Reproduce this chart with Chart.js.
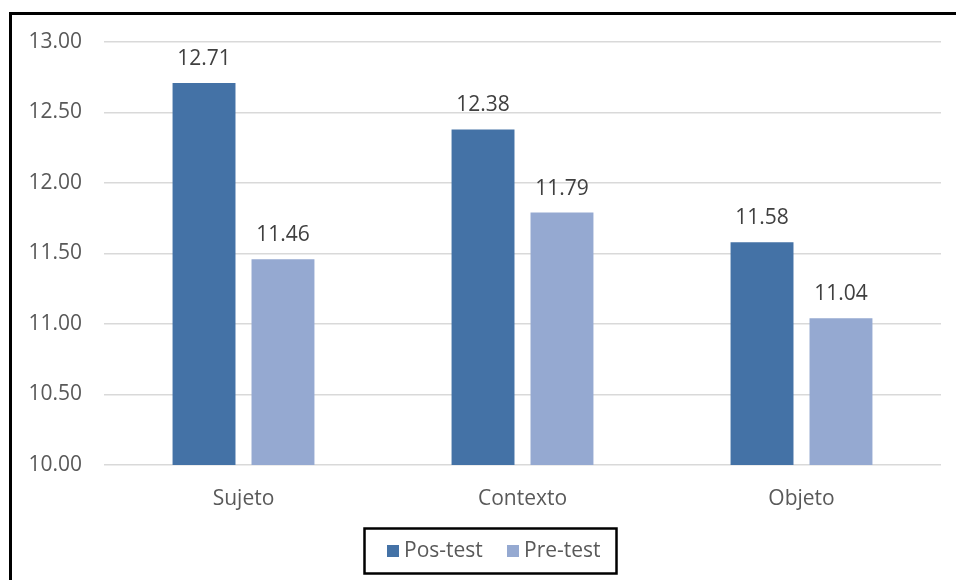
<!DOCTYPE html>
<html>
<head>
<meta charset="utf-8">
<script src="https://cdn.jsdelivr.net/npm/chart.js@4.4.1/dist/chart.umd.min.js"></script>
<style>
  html, body { margin: 0; padding: 0; background: #ffffff; }
  #wrap { width: 956px; height: 580px; position: relative; }
</style>
</head>
<body>
<div id="wrap"><canvas id="chart" width="956" height="580"></canvas></div>
<script>
// Categories and series values
const categories = ['Sujeto', 'Contexto', 'Objeto'];
const posTest = [12.71, 12.38, 11.58];
const preTest = [11.46, 11.79, 11.04];
const seriesNames = ['Pos-test', 'Pre-test'];
const yTicks = [10.00, 10.50, 11.00, 11.50, 12.00, 12.50, 13.00];

const FONT = '"Open Sans", Lato, sans-serif';
const FSIZE = 21;
const colors = ['#4472A6', '#95A9D1'];

// Value labels above each bar
const valueLabels = {
  id: 'valueLabels',
  afterDatasetsDraw(chart) {
    const ctx = chart.ctx;
    ctx.save();
    ctx.font = FSIZE + 'px ' + FONT;
    ctx.fillStyle = '#404040';
    ctx.textAlign = 'center';
    ctx.textBaseline = 'alphabetic';
    chart.data.datasets.forEach((ds, i) => {
      chart.getDatasetMeta(i).data.forEach((bar, j) => {
        ctx.fillText(ds.data[j].toFixed(2), bar.x, bar.y - 18);
      });
    });
    ctx.restore();
  }
};

// Frame and boxed legend
const frameAndLegend = {
  id: 'frameAndLegend',
  afterDraw(chart) {
    const ctx = chart.ctx;
    ctx.save();
    ctx.strokeStyle = '#000000';
    ctx.lineWidth = 3;
    ctx.beginPath();
    ctx.moveTo(10.5, 580);
    ctx.lineTo(10.5, 13.5);
    ctx.lineTo(956, 13.5);
    ctx.stroke();

    // legend box
    ctx.lineWidth = 2.5;
    ctx.strokeRect(364.5, 528.5, 252, 45);
    ctx.font = FSIZE + 'px ' + FONT;
    ctx.textBaseline = 'middle';
    ctx.textAlign = 'left';
    const items = [{x: 387, tx: 404}, {x: 507, tx: 524}];
    chart.data.datasets.forEach((ds, i) => {
      ctx.fillStyle = ds.backgroundColor;
      ctx.fillRect(items[i].x, 545, 12, 12);
      ctx.fillStyle = '#595959';
      ctx.fillText(ds.label, items[i].tx, 551);
    });
    ctx.restore();
  }
};

new Chart(document.getElementById('chart'), {
  type: 'bar',
  data: {
    labels: categories,
    datasets: [
      { label: seriesNames[0], data: posTest, backgroundColor: colors[0] },
      { label: seriesNames[1], data: preTest, backgroundColor: colors[1] }
    ]
  },
  options: {
    responsive: false,
    animation: false,
    events: [],
    categoryPercentage: 0.566,
    barPercentage: 0.797,
    layout: { padding: { left: 20, right: 15, top: 42, bottom: 0 } },
    plugins: {
      legend: { display: false },
      tooltip: { enabled: false }
    },
    scales: {
      x: {
        grid: { display: false, drawTicks: false },
        border: { display: false },
        ticks: { color: '#595959', font: { family: FONT, size: FSIZE }, padding: 21 },
        afterFit(scale) { scale.height = 115; }
      },
      y: {
        min: 10, max: 13,
        afterBuildTicks(scale) { scale.ticks = yTicks.map(v => ({ value: v })); },
        grid: { color: '#D9D9D9', lineWidth: 1.5, drawTicks: false },
        border: { display: false },
        ticks: {
          color: '#595959',
          font: { family: FONT, size: FSIZE },
          padding: 22,
          callback: v => Number(v).toFixed(2)
        },
        afterFit(scale) { scale.width = 84; }
      }
    }
  },
  plugins: [valueLabels, frameAndLegend]
});
</script>
</body>
</html>
